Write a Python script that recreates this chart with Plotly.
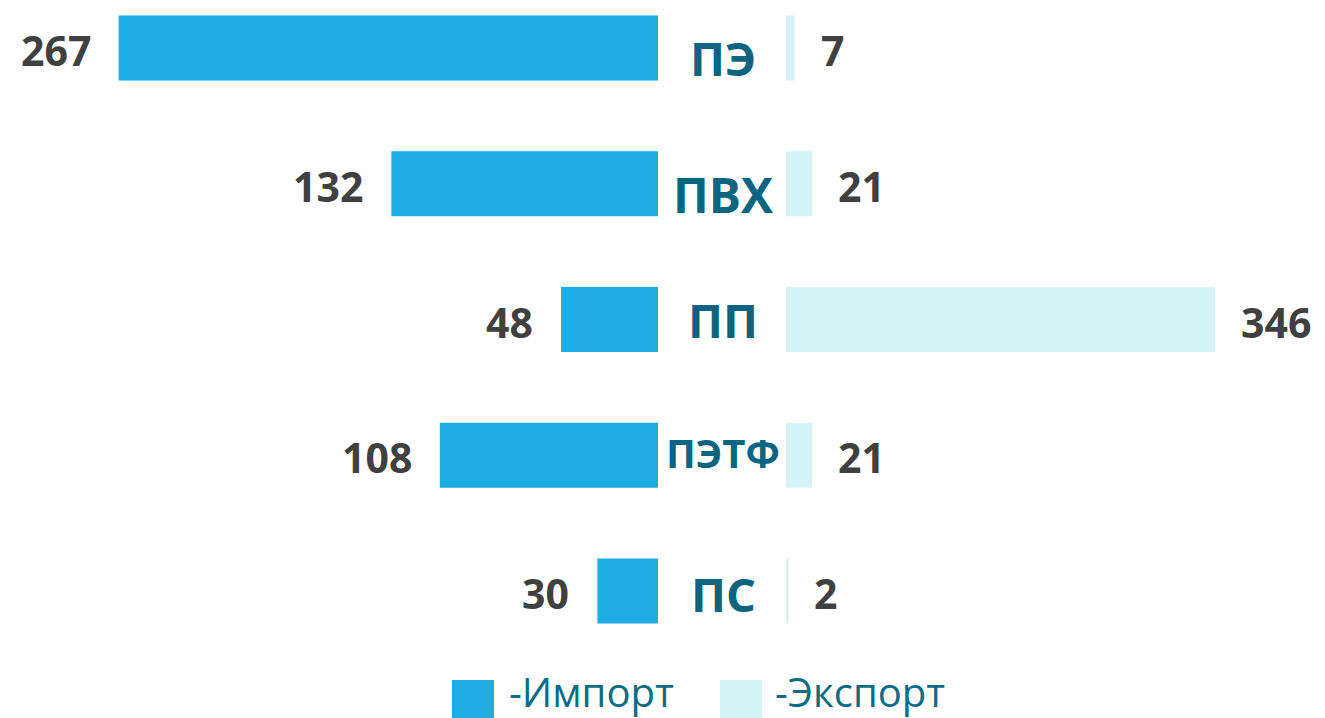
import plotly.graph_objects as go

categories = ["ПЭ", "ПВХ", "ПП", "ПЭТФ", "ПС"]
import_values = [267, 132, 48, 108, 30]
export_values = [7, 21, 346, 21, 2]
legend_labels = ["-Импорт", "-Экспорт"]

W, H = 1325, 718
C_IMP = "#1eace2"
C_EXP = "#d5f3f6"
C_CAT = "#0b6480"
C_VAL = "#404040"

fig = go.Figure()
fig.add_trace(go.Bar(y=categories, x=import_values, orientation="h",
                     marker=dict(color=C_IMP, line=dict(width=0)),
                     width=0.48, xaxis="x", yaxis="y", showlegend=False,
                     hoverinfo="x+y"))
fig.add_trace(go.Bar(y=categories, x=export_values, orientation="h",
                     marker=dict(color=C_EXP, line=dict(width=0)),
                     width=0.48, xaxis="x2", yaxis="y", showlegend=False,
                     hoverinfo="x+y"))

ann = []
for c, v in zip(categories, import_values):
    ann.append(dict(x=v, y=c, xref="x", yref="y", text=str(v), showarrow=False,
                    xanchor="right", yanchor="middle", xshift=-26, yshift=-2,
                    font=dict(family="Open Sans", size=41, color=C_VAL, weight=700)))
for c, v in zip(categories, export_values):
    ann.append(dict(x=v, y=c, xref="x2", yref="y", text=str(v), showarrow=False,
                    xanchor="left", yanchor="middle", xshift=24, yshift=-2,
                    font=dict(family="Open Sans", size=41, color=C_VAL, weight=700)))

cat_sizes = [47, 48, 47, 40, 47]
cat_shift = [-10, -11, 0, 3, -3]
for c, s, sh in zip(categories, cat_sizes, cat_shift):
    ann.append(dict(x=723 / W, y=c, xref="paper", yref="y", text=c, showarrow=False,
                    xanchor="center", yanchor="middle", yshift=sh,
                    font=dict(family="Open Sans", size=s, color=C_CAT, weight=700)))

# legend
shapes = [
    dict(type="rect", xref="paper", yref="paper", x0=452 / W, x1=494 / W,
         y0=1 - 718 / H, y1=1 - 680 / H, fillcolor=C_IMP, line=dict(width=0)),
    dict(type="rect", xref="paper", yref="paper", x0=720 / W, x1=762 / W,
         y0=1 - 718 / H, y1=1 - 680 / H, fillcolor=C_EXP, line=dict(width=0)),
]
for lbl, lx in zip(legend_labels, [507, 773]):
    ann.append(dict(x=lx / W, y=1 - 691 / H, xref="paper", yref="paper", text=lbl,
                    showarrow=False, xanchor="left", yanchor="middle",
                    font=dict(family="Open Sans", size=40, color="#0e6b85", weight=400)))

fig.update_layout(
    width=W, height=H,
    margin=dict(l=0, r=0, t=0, b=0),
    paper_bgcolor="white", plot_bgcolor="white",
    barmode="overlay",
    xaxis=dict(domain=[0, 658 / W], range=[658 / 2.02, 0], visible=False, fixedrange=True),
    xaxis2=dict(domain=[786 / W, 1], range=[0, (W - 786) / 1.24], visible=False,
                anchor="y", fixedrange=True),
    yaxis=dict(type="category", categoryorder="array", categoryarray=categories,
               range=[4 + (H - 591) / 135.75, -48 / 135.75], visible=False, fixedrange=True),
    annotations=ann,
    shapes=shapes,
)

fig.write_html("out.html", config={"displayModeBar": False},
               post_script="document.body.style.margin='0';document.body.style.overflow='hidden';")
